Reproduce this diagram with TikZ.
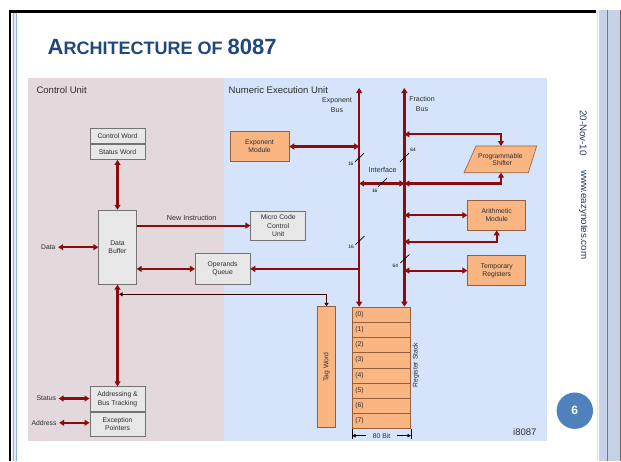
\documentclass[tikz,border=0pt]{standalone}
\usepackage{fontspec}
\setmainfont{Liberation Sans}
\usetikzlibrary{arrows.meta,positioning}
\definecolor{busred}{RGB}{140,12,14}
\definecolor{cupink}{RGB}{227,216,220}
\definecolor{neublue}{RGB}{213,227,251}
\definecolor{boxgrey}{RGB}{231,231,231}
\definecolor{boxorange}{RGB}{250,182,130}
\definecolor{orangeline}{RGB}{150,95,60}
\definecolor{titleblue}{RGB}{31,73,125}
\definecolor{sideblue}{RGB}{35,60,105}
\definecolor{txtgrey}{RGB}{45,45,45}
\definecolor{stripblue}{RGB}{198,210,230}
\definecolor{circblue}{RGB}{79,129,189}
\begin{document}
\begin{tikzpicture}[
        x=1pt, y=-1pt,
        font=\fontsize{6.8}{7.8}\selectfont,
        every node/.style={text=txtgrey, inner sep=0pt},
        >={Triangle[length=5pt,width=6pt]},
        greybox/.style={draw=black!55, fill=boxgrey, align=center, line width=0.6pt},
        orangebox/.style={draw=orangeline, fill=boxorange, align=center, line width=0.6pt},
        busline/.style={draw=busred, line width=2.2pt, <->},
        oneway/.style={draw=busred, line width=2.2pt, ->},
        taglink/.style={draw=black!80!red, line width=1.1pt, <->, >={Triangle[length=3.5pt,width=4pt]}},
        slash/.style={draw=black, line width=0.7pt},
        dimline/.style={draw=black, line width=0.8pt, ->, >={Triangle[length=3.5pt,width=3.5pt]}},
        lbl/.style={inner sep=2.5pt},
        region/.style={font=\fontsize{9.5}{11}\selectfont, anchor=west},
    ]
    \useasboundingbox (0,0) rectangle (621,461);
    \fill[white] (0,0) rectangle (621,461);
    \fill[stripblue] (599,10) rectangle (621,461);
    \draw[black!12, line width=1pt] (597,10) -- (597,461);
    \draw[circblue, line width=0.7pt] (607.7,10) -- (607.7,461);
    \draw[black!60, line width=0.8pt] (620.5,10) -- (620.5,461);
    \fill[stripblue!45] (11.5,12.5) rectangle (17,461);
    \draw[circblue!60, line width=0.5pt] (13.5,12.5) -- (13.5,461);
    \draw[circblue!60, line width=0.5pt] (16,12.5) -- (16,461);
    \draw[black, line width=2.2pt] (10,461) -- (10,11.5) -- (596,11.5);

    \node[anchor=base west, text=titleblue, font=\bfseries] (title) at (47.5,54.3)
        {\fontsize{22}{26}\selectfont A\fontsize{18}{26}\selectfont RCHITECTURE OF \fontsize{22}{26}\selectfont 8087};

    \fill[cupink] (28.4,78) rectangle (224,441);
    \fill[neublue] (224,78) rectangle (546.7,441);
    \node[region] (cu) at (36.4,90) {Control Unit};
    \node[region] (neu) at (228.5,90) {Numeric Execution Unit};

    \node[greybox, minimum width=55.3pt, minimum height=15pt] (cw) at (117.5,136.2) {Control Word};
    \node[greybox, minimum width=55.3pt, minimum height=15.3pt, below=0pt of cw] (sw) {Status Word};
    \node[greybox, minimum width=37.7pt, minimum height=74.3pt] (db) at (117.5,247.2) {Data\\Buffer};
    \node[greybox, minimum width=55pt, minimum height=29.6pt] (mcu) at (278.2,225.6) {Micro Code\\[1pt]Control\\Unit};
    \node[greybox, minimum width=54.7pt, minimum height=31pt] (oq) at (222.6,268.9) {Operands\\Queue};
    \node[greybox, minimum width=55.4pt, minimum height=24.6pt] (abt) at (117.5,399) {Addressing \&\\[1pt]Bus Tracking};
    \node[greybox, minimum width=55.4pt, minimum height=24.4pt, below=0pt of abt] (ep) {Exception\\[1pt]Pointers};

    \node[orangebox, minimum width=59pt, minimum height=29.6pt] (em) at (259.5,146.5) {Exponent\\Module};
    \node[orangebox, minimum width=58pt, minimum height=29.7pt] (am) at (496.7,215.2) {Arithmetic\\Module};
    \node[orangebox, minimum width=58pt, minimum height=29.8pt] (tr) at (496.7,270.6) {Temporary\\Registers};
    \draw[orangebox] (476,146) -- (536.7,146) -- (528.3,172.7) -- (464,172.7) -- cycle;
    \node[align=center] (ps) at (500.3,159.5) {Programmable\\\hspace*{4pt}Shifter};
    \coordinate (pstop) at (501,146);
    \coordinate (psbot) at (501,172.7);

    \node[orangebox, minimum width=18.4pt, minimum height=120.6pt] (tw) at (326.5,367) {};
    \node[rotate=90] (twlbl) at (tw) {Tag Word};
    \foreach \i in {0,...,7}
        \node[orangebox, minimum width=58.3pt, minimum height=15.2pt, text width=52.3pt, inner xsep=3pt, align=left, anchor=north] (rs\i) at (381.55,{306.7+15.2*\i}) {(\i)};
    \node[rotate=90] (rslbl) at (415.8,365) {Register Stack};
    \node (bits) at (381.55,435.7) {80 Bit};
    \draw[black, line width=0.8pt] (rs7.south west) -- ++(0,10);
    \draw[black, line width=0.8pt] (rs7.south east) -- ++(0,10);
    \draw[dimline] ([xshift=-7pt]bits.west) -- (bits.west -| rs7.west);
    \draw[dimline] ([xshift=7pt]bits.east) -- (bits.east -| rs7.east);

    \coordinate (ebtop) at (359.2,88);
    \coordinate (fbtop) at (404.4,88);
    \node[align=center, font=\fontsize{7}{10}\selectfont] (eblbl) at (337,105) {Exponent\\Bus};
    \node[align=center, font=\fontsize{7}{10}\selectfont] (fblbl) at (422,104.3) {Fraction\\Bus};
    \draw[busline] (ebtop) -- (ebtop |- rs0.north);
    \draw[busline] (fbtop) -- (fbtop |- rs0.north);

    \coordinate (iface) at (382,183.5);
    \coordinate (psup) at (501,134.3);
    \coordinate (amlow) at (496.7,241.7);
    \node[font=\fontsize{7.2}{8}\selectfont] (ifacelbl) at (382.6,170.3) {Interface};

    \draw[taglink, shorten <=1.6pt] (db.south |- 0,294.3) -| (tw.north);

    \draw[busline] (sw.south) -- (db.north);
    \draw[busline] (db.south) -- (abt.north);
    \node[lbl] (data) at (48.3,247.2) {Data};
    \draw[busline] (data) -- (data -| db.west);
    \node[lbl] (status) at (46.3,398.5) {Status};
    \draw[busline] (status) -- (status -| abt.west);
    \node[lbl] (address) at (44,422.8) {Address};
    \draw[busline] (address) -- (address -| ep.west);
    \draw[oneway] (db.east |- mcu.west) -- (mcu.west);
    \node[font=\fontsize{7.2}{8}\selectfont] (newins) at (191.7,217.7) {New Instruction};
    \draw[busline] (db.east |- oq.west) -- (oq.west);
    \draw[oneway] (ebtop |- oq.east) -- (oq.east);
    \draw[busline] (em.east) -- (em.east -| ebtop);
    \draw[busline] (iface -| ebtop) -- (iface -| fbtop);
    \draw[busline] (psup -| fbtop) -| (pstop);
    \draw[busline] (psbot) |- (iface -| fbtop);
    \draw[busline] (fbtop |- am.west) -- (am.west);
    \draw[busline] (am.south) |- (amlow -| fbtop);
    \draw[busline] (fbtop |- tr.west) -- (tr.west);

    \foreach \sx/\sy/\lx/\ly/\nb in {359.5/157.5/350.7/164/16, 360/240.3/351/247.3/16, 382.5/182.5/374.7/190.7/16, 404.5/157.5/413/150/64, 404.9/258.7/395.3/265.7/64}{
        \draw[slash] (\sx-4.5,\sy+4.3) -- (\sx+4.5,\sy-4.3);
        \node[font=\fontsize{4.8}{5}\selectfont, text=black] at (\lx,\ly) {\nb};
    }

    \node[font=\fontsize{9.5}{11}\selectfont] (ident) at (524.8,432.3) {i8087};
    \node[circle, fill=circblue, minimum size=36.4pt, text=white, font=\bfseries\fontsize{12}{12}\selectfont] (page) at (574.8,410.7) {6};
    \node[rotate=-90, text=sideblue, font=\fontsize{9.8}{11}\selectfont] (date) at (583.3,133) {20-Nov-10};
    \node[rotate=-90, text=sideblue, font=\fontsize{9.8}{11}\selectfont] (site) at (583.3,214.7) {www.eazynotes.com};
\end{tikzpicture}
\end{document}
